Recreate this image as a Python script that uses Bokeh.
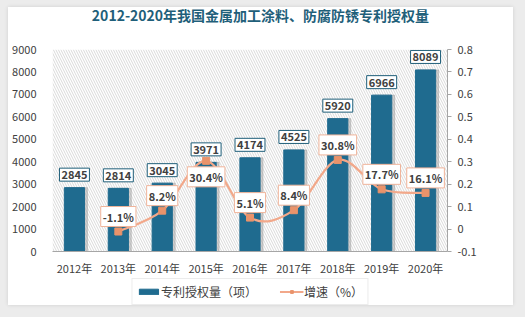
import math
from bokeh.plotting import figure
from bokeh.models import (ColumnDataSource, Range1d, LinearAxis, FixedTicker, Label, Div,
                          BoxAnnotation, Legend, LegendItem, CustomJSTickFormatter)
from bokeh.layouts import column
from bokeh.embed import file_html
from bokeh.resources import INLINE
from bokeh.transform import dodge

# ---------------- data ----------------
years = ["2012年", "2013年", "2014年", "2015年", "2016年", "2017年", "2018年", "2019年", "2020年"]
patents = [2845, 2814, 3045, 3971, 4174, 4525, 5920, 6966, 8089]
growth_years = ["2013年", "2014年", "2015年", "2016年", "2017年", "2018年", "2019年", "2020年"]
growth = [-0.011, 0.082, 0.304, 0.051, 0.084, 0.308, 0.177, 0.161]
left_ticks = [0, 1000, 2000, 3000, 4000, 5000, 6000, 7000, 8000, 9000]
right_ticks = [-0.1, 0, 0.1, 0.2, 0.3, 0.4, 0.5, 0.6, 0.7, 0.8]
title_text = "2012-2020年我国金属加工涂料、防腐防锈专利授权量"
bar_name = "专利授权量（项）"
line_name = "增速（%）"

# style: which growth labels sit below their point
labels_below = ["2015年"]

FONT = "Noto Sans CJK SC"
BAR = "#1f6b8f"
BAR_DARK = "#1f5f7a"
LINE = "#f2a88a"
MARK = "#e9936b"
TXT = "#404040"

xi = list(range(len(years)))
gx = [years.index(y) for y in growth_years]

bar_src = ColumnDataSource(dict(x=xi, v=patents))
g_src = ColumnDataSource(dict(x=gx, g=growth))

title_div = Div(text=title_text, width=505, height=16, margin=(0, 0, 0, 0),
                styles={"font-family": FONT, "font-size": "14px", "font-weight": "bold",
                        "color": "#1f5f7a", "text-align": "center", "line-height": "16px",
                        "width": "505px"})

p = figure(width=505, height=255, output_backend="svg", toolbar_location=None,
           x_range=Range1d(-0.5, len(years) - 0.5), y_range=Range1d(0, 9000),
           min_border_left=44, min_border_right=66, min_border_top=26, min_border_bottom=25)
p.margin = (0, 0, 0, 0)
p.outline_line_color = None
p.xgrid.grid_line_color = None
p.ygrid.grid_line_color = None
p.background_fill_color = "white"
p.border_fill_color = "white"

# hatched plot area
p.add_layout(BoxAnnotation(fill_alpha=0, line_alpha=0, hatch_pattern="\\", hatch_color="#d9d9d9",
                           hatch_scale=5, hatch_weight=1, level="underlay"))

p.extra_y_ranges = {"g": Range1d(-0.1, 0.8)}

# bars with soft shadow
p.vbar(x=dodge("x", 0.06), top="v", width=0.47, source=bar_src, color="#9c9c9c", alpha=0.45)
p.vbar(x="x", top="v", width=0.46, source=bar_src, fill_color=BAR, line_color=BAR)

# smooth growth curve (Catmull-Rom -> Bezier through the data points)
X = [float(v) for v in gx]
Y = list(growth)
n = len(X)
bx0, by0, bx1, by1, c0x, c0y, c1x, c1y = [], [], [], [], [], [], [], []
for i in range(n - 1):
    xm, ym = (X[i - 1], Y[i - 1]) if i > 0 else (X[i], Y[i])
    xp, yp = (X[i + 2], Y[i + 2]) if i + 2 < n else (X[i + 1], Y[i + 1])
    bx0.append(X[i]); by0.append(Y[i]); bx1.append(X[i + 1]); by1.append(Y[i + 1])
    c0x.append(X[i] + (X[i + 1] - xm) / 6); c0y.append(Y[i] + (Y[i + 1] - ym) / 6)
    c1x.append(X[i + 1] - (xp - X[i]) / 6); c1y.append(Y[i + 1] - (yp - Y[i]) / 6)
p.bezier(x0=bx0, y0=by0, x1=bx1, y1=by1, cx0=c0x, cy0=c0y, cx1=c1x, cy1=c1y,
         line_color=LINE, line_width=2.2, y_range_name="g")
p.scatter(x="x", y="g", source=g_src, marker="square", size=7, fill_color=MARK,
          line_color=MARK, y_range_name="g")

# labels
for x, v in zip(xi, patents):
    p.add_layout(Label(x=x, y=v, text=str(v), y_offset=13, text_align="center",
                       text_baseline="middle", text_font=FONT, text_font_size="11px",
                       text_font_style="bold", text_color=TXT, background_fill_color="white",
                       border_line_color=BAR_DARK, border_line_width=1, padding=2))
for x, yname, g in zip(gx, growth_years, growth):
    p.add_layout(Label(x=x, y=g, y_range_name="g", text=f"{g*100:.1f}%",
                       y_offset=-16 if yname in labels_below else 15,
                       text_align="center", text_baseline="middle", text_font=FONT,
                       text_font_size="11px", text_font_style="bold", text_color=TXT,
                       background_fill_color="white", border_line_color="#f0b49a",
                       border_line_width=1, padding=2))

# axes
p.yaxis.ticker = FixedTicker(ticks=left_ticks)
p.yaxis.axis_line_color = None
p.yaxis.major_tick_line_color = None
p.yaxis.minor_tick_line_color = None
p.yaxis.major_label_standoff = 10
p.yaxis.major_label_text_font = FONT
p.yaxis.major_label_text_font_size = "11px"
p.yaxis.major_label_text_color = TXT

p.xaxis.ticker = FixedTicker(ticks=xi)
p.xaxis.major_label_overrides = {i: y for i, y in zip(xi, years)}
p.xaxis.axis_line_color = "#a6a6a6"
p.xaxis.major_tick_line_color = None
p.xaxis.minor_tick_line_color = None
p.xaxis.major_label_standoff = 2
p.xaxis.major_label_text_font = FONT
p.xaxis.major_label_text_font_size = "11px"
p.xaxis.major_label_text_color = TXT

ra = LinearAxis(y_range_name="g", ticker=FixedTicker(ticks=right_ticks),
                formatter=CustomJSTickFormatter(code="return String(Number(tick.toFixed(1)));"))
ra.axis_line_color = "#a6a6a6"
ra.major_tick_line_color = "#a6a6a6"
ra.major_tick_out = 4
ra.major_tick_in = 0
ra.minor_tick_line_color = None
ra.major_label_standoff = 6
ra.major_label_text_font = FONT
ra.major_label_text_font_size = "11px"
ra.major_label_text_color = TXT
p.add_layout(ra, "right")

# legend strip (a separate small figure with style-only renderers, no visible data)
lf = figure(width=505, height=27, output_backend="svg", toolbar_location=None,
            x_axis_type=None, y_axis_type=None, x_range=Range1d(0, 1), y_range=Range1d(0, 1),
            min_border=0, margin=(0, 0, 0, 0))
lf.outline_line_color = None
lf.grid.grid_line_color = None
lf.background_fill_color = "white"
lf.border_fill_color = "white"
nan = float("nan")
empty = ColumnDataSource(dict(x=[nan], y=[nan]))
lb = lf.vbar(x="x", top="y", width=0.5, source=empty, fill_color=BAR, line_color=BAR)
ll = lf.line(x="x", y="y", source=empty, line_color=LINE, line_width=2.2)
lm = lf.scatter(x="x", y="y", source=empty, marker="square", size=7, fill_color=MARK,
                line_color=MARK)
legend = Legend(items=[LegendItem(label=bar_name, renderers=[lb], index=0),
                       LegendItem(label=line_name, renderers=[ll, lm], index=0)],
                orientation="horizontal", location="top")
legend.border_line_color = "#d9d9d9"
legend.background_fill_color = "white"
legend.label_text_font = FONT
legend.label_text_font_size = "12px"
legend.label_text_color = TXT
legend.glyph_width = 24
legend.glyph_height = 7
legend.label_standoff = 1
legend.spacing = 22
legend.padding = 4
legend.margin = 0
legend.label_height = 14
lf.add_layout(legend)

card = column(title_div, p, lf, spacing=0, margin=(7, 12, 12, 8),
              styles={"background-color": "white", "box-shadow": "0 0 4px rgba(0,0,0,0.12)"})
root = column(card, styles={"background-color": "#ececec"})
open("out.html", "w").write(file_html(root, INLINE))
